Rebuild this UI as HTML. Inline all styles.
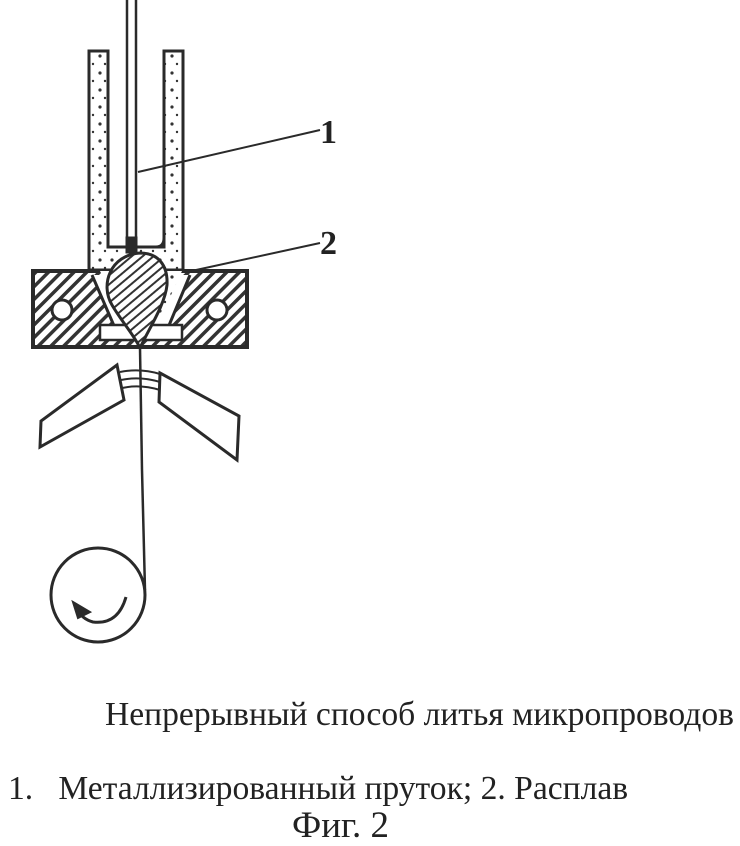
<!DOCTYPE html>
<html><head><meta charset="utf-8"><style>
body{margin:0;background:#fff;width:740px;height:843px;overflow:hidden;position:relative;font-family:"Liberation Serif",serif;color:#222}
.t{position:absolute;white-space:nowrap;line-height:1}
</style></head><body>
<svg width="740" height="843" style="position:absolute;left:0;top:0">
<defs>
<pattern id="h" width="9" height="9" patternUnits="userSpaceOnUse" patternTransform="rotate(-45)">
<rect width="9" height="9" fill="#fff"/><rect width="9" height="3.5" fill="#333"/></pattern>
<pattern id="h2" width="7" height="7" patternUnits="userSpaceOnUse" patternTransform="rotate(-40)">
<rect width="7" height="7" fill="#fff"/><rect width="7" height="2" fill="#333"/></pattern>
<pattern id="d" width="12" height="17" patternUnits="userSpaceOnUse">
<rect width="12" height="17" fill="#fff"/><circle cx="4" cy="5" r="1.6" fill="#333"/><circle cx="9" cy="13" r="1.2" fill="#333"/></pattern>
</defs>
<g stroke="#2a2a2a" fill="none" stroke-width="3">
<path d="M89 270 V51 H108 V247 H164 V51 H183 V270 Z" fill="url(#d)"/>
<path d="M164 51 V238 Q164 247 156 247"/>
<line x1="127" y1="0" x2="127" y2="240" stroke-width="2.5"/>
<line x1="136" y1="0" x2="136" y2="240" stroke-width="2.5"/>
<rect x="127" y="238" width="9" height="14" fill="#2a2a2a"/>
<rect x="33" y="271" width="214" height="76" fill="url(#h)" stroke-width="4"/>
<path d="M92 275 L118 335 H165 L190 275" fill="#fff" stroke-width="3"/>
<path d="M100 271 L128 330 H155 L182 271 Z" fill="url(#d)" stroke="none"/>
<rect x="100" y="325" width="82" height="15" fill="#fff" stroke-width="2.5"/>
<circle cx="62" cy="310" r="10" fill="#fff" stroke-width="3"/>
<circle cx="217" cy="310" r="10" fill="#fff" stroke-width="3"/>
<path d="M140 253 C110 255 100 285 112 305 C122 322 134 335 140 348 C148 330 165 305 167 285 C168 265 158 253 140 253 Z" fill="url(#h2)" stroke-width="3"/>
<line x1="138" y1="172" x2="320" y2="130" stroke-width="2"/>
<line x1="196" y1="270" x2="320" y2="243" stroke-width="2"/>
<path d="M117 365 L41 421 L40 447 L124 400 Z" fill="#fff" stroke-width="3"/>
<path d="M160 373 L239 416 L237 460 L159 402 Z" fill="#fff" stroke-width="3"/>
<path d="M120 372 Q140 368 160 374 M121 380 Q140 376 160 382 M122 388 Q140 384 160 390" stroke-width="2"/>
<line x1="140" y1="348" x2="142" y2="470" stroke-width="2.5"/>
<line x1="142" y1="470" x2="145" y2="590" stroke-width="2.5"/>
<circle cx="98" cy="595" r="47" stroke-width="3"/>
<path d="M126 597 Q118 625 93 622 Q82 619 78 610" stroke-width="3"/>
<path d="M73 602 L90 612 L78 618 Z" fill="#2a2a2a" stroke-width="2"/>
</g>
<text x="320" y="143" font-family="Liberation Serif" font-weight="bold" font-size="34" fill="#222">1</text>
<text x="320" y="254" font-family="Liberation Serif" font-weight="bold" font-size="34" fill="#222">2</text>
</svg>
<div class="t" style="left:105px;top:698px;font-size:33.6px">Непрерывный способ литья микропроводов</div>
<div class="t" style="left:8px;top:772px;font-size:33.6px">1.&nbsp;&nbsp;&nbsp;Металлизированный пруток; 2. Расплав</div>
<div class="t" style="left:292px;top:807px;font-size:37px">Фиг. 2</div>
</body></html>
